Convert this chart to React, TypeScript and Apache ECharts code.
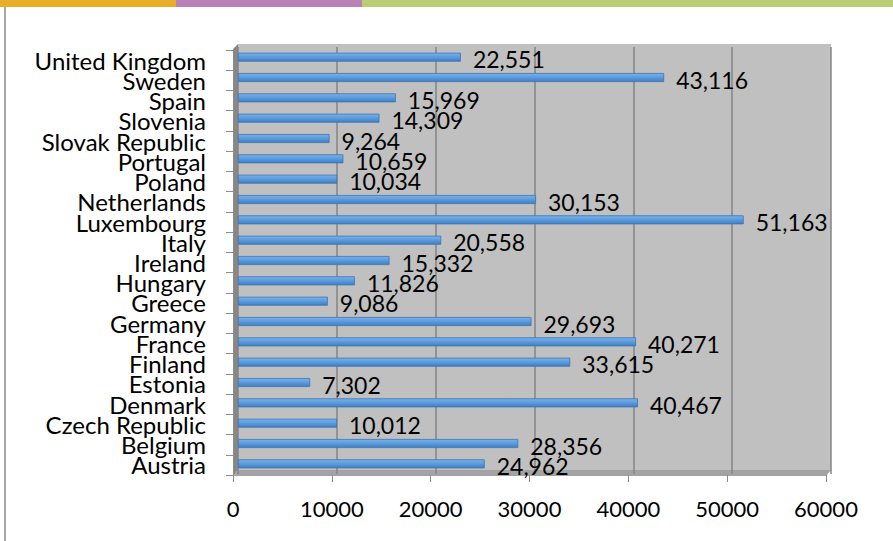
import React, { useEffect, useRef } from "react";
import * as echarts from "echarts";

const categories = [
  "Austria", "Belgium", "Czech Republic", "Denmark", "Estonia", "Finland", "France",
  "Germany", "Greece", "Hungary", "Ireland", "Italy", "Luxembourg", "Netherlands",
  "Poland", "Portugal", "Slovak Republic", "Slovenia", "Spain", "Sweden", "United Kingdom",
];
const values = [
  24962, 28356, 10012, 40467, 7302, 33615, 40271,
  29693, 9086, 11826, 15332, 20558, 51163, 30153,
  10034, 10659, 9264, 14309, 15969, 43116, 22551,
];
const axisMin = 0;
const axisMax = 60000;
const axisStep = 10000;

const FONT = "Lato";

export default function App() {
  const ref = useRef<HTMLDivElement>(null);
  useEffect(() => {
    document.body.style.margin = "0";
    const chart = echarts.init(ref.current!, null, { renderer: "svg" });
    chart.setOption({
      animation: false,
      backgroundColor: "#ffffff",
      graphic: [
        { type: "rect", z: 100, shape: { x: 0, y: 0, width: 176, height: 7 }, style: { fill: "#E9AD2C" } },
        { type: "rect", z: 100, shape: { x: 176, y: 0, width: 186, height: 7 }, style: { fill: "#B981B7" } },
        { type: "rect", z: 100, shape: { x: 362, y: 0, width: 531, height: 7 }, style: { fill: "#BACD73" } },
        { type: "rect", z: 100, shape: { x: 4, y: 7, width: 2, height: 534 }, style: { fill: "#A8A8A8" } },
        // back wall
        { type: "rect", z: -1, shape: { x: 238, y: 44, width: 593, height: 426 }, style: { fill: "#C0C0C0" } },
        // left side wall
        { type: "polygon", z: -1, shape: { points: [[233, 49], [238, 44], [238, 470], [233, 476]] }, style: { fill: "#878787" } },
        // floor
        { type: "polygon", z: -1, shape: { points: [[238, 470], [831, 470], [826, 476], [233, 476]] }, style: { fill: "#A3A3A3" } },
      ],
      grid: [
        { left: 238, right: 62, top: 47, bottom: 67, containLabel: false },
        { left: 233, right: 67, top: 50, bottom: 66, containLabel: false },
      ],
      xAxis: [
        {
          gridIndex: 0, type: "value", min: axisMin, max: axisMax, interval: axisStep,
          axisLabel: { show: false }, axisTick: { show: false }, axisLine: { show: false },
          splitLine: { show: true, lineStyle: { color: "#858585", width: 1.5 } },
        },
        {
          gridIndex: 1, type: "value", min: axisMin, max: axisMax, interval: axisStep,
          axisLabel: {
            show: true, color: "#000", fontFamily: FONT, fontSize: 22, margin: 22,
            formatter: (v: number) => String(v),
          },
          axisTick: { show: true, length: 7, lineStyle: { color: "#8C8C8C", width: 1 } },
          axisLine: { show: false },
          splitLine: { show: false },
        },
      ],
      yAxis: [
        {
          gridIndex: 0, type: "category", data: categories,
          axisLabel: { show: false }, axisTick: { show: false }, axisLine: { show: false },
        },
        {
          gridIndex: 1, type: "category", data: categories,
          axisLabel: { show: true, color: "#000", fontFamily: FONT, fontSize: 24, margin: 27, interval: 0 },
          axisTick: { show: true, length: 7, lineStyle: { color: "#8C8C8C", width: 1 } },
          axisLine: { show: true, lineStyle: { color: "#8C8C8C", width: 1 } },
        },
      ],
      series: [
        {
          type: "bar",
          xAxisIndex: 0,
          yAxisIndex: 0,
          data: values,
          barWidth: 9,
          itemStyle: {
            color: new echarts.graphic.LinearGradient(0, 0, 0, 1, [
              { offset: 0, color: "#79B1EA" },
              { offset: 0.5, color: "#5B9BDC" },
              { offset: 1, color: "#3F7FC2" },
            ]),
            borderColor: "#3D74B4",
            borderWidth: 0.8,
          },
          label: {
            show: true,
            position: "right",
            distance: 12,
            offset: [0, 2],
            color: "#000",
            fontFamily: FONT,
            fontSize: 23,
            formatter: (p: any) => Number(p.value).toLocaleString("en-US"),
          },
        },
      ],
    });
    return () => chart.dispose();
  }, []);
  return <div ref={ref} style={{ width: 893, height: 541 }} />;
}
